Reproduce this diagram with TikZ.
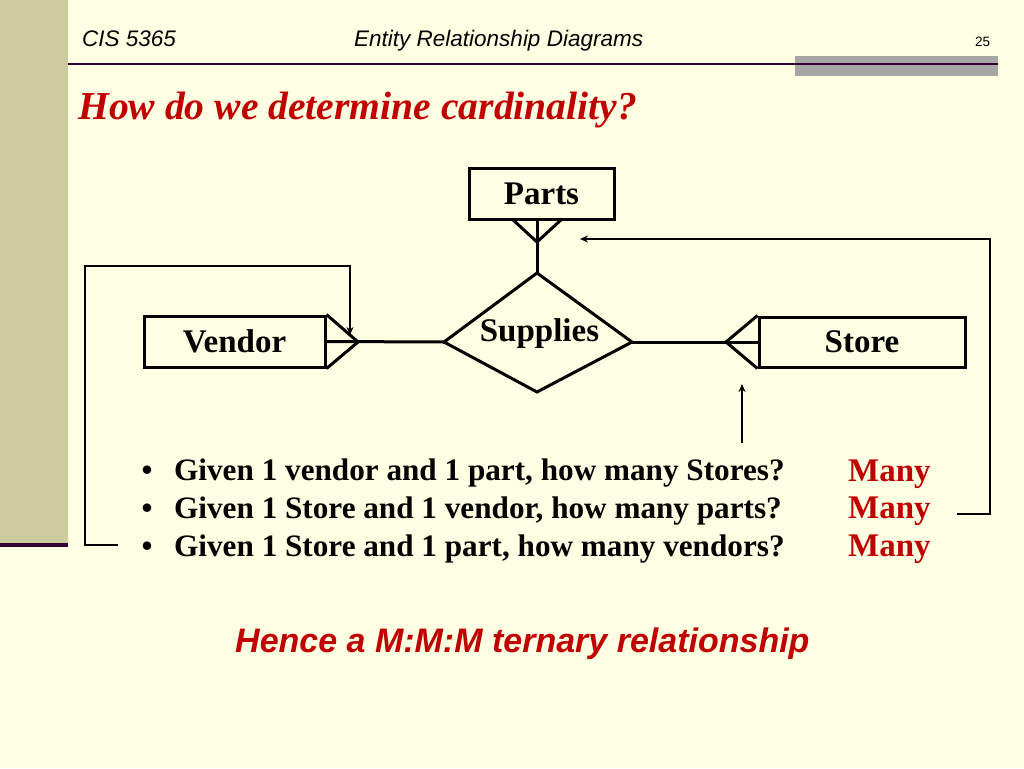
\documentclass[tikz,border=0pt]{standalone}
\usepackage{fontspec}
\setmainfont{Liberation Serif}
\newfontfamily\arialf{Liberation Sans}
\usetikzlibrary{arrows.meta}
\definecolor{bg}{RGB}{255,255,227}
\definecolor{strip}{RGB}{204,204,158}
\definecolor{darkln}{RGB}{51,0,51}
\definecolor{grayblk}{RGB}{166,166,166}
\definecolor{redt}{RGB}{192,0,0}
\begin{document}
\begin{tikzpicture}[x=1pt,y=-1pt,
  entity/.style={draw, line width=3pt, rectangle, inner sep=0pt,
    font=\fontsize{33}{40}\selectfont\bfseries},
  conn/.style={line width=3pt},
  fb/.style={line width=2.6pt, -{Stealth[length=8pt,width=7pt]}},
  hdr/.style={anchor=base west, inner sep=0pt, font=\arialf\itshape\fontsize{22.5}{27}\selectfont},
  bul/.style={anchor=base, inner sep=0pt, font=\fontsize{31.2}{37}\selectfont\bfseries},
  btxt/.style={anchor=base west, inner sep=0pt, font=\fontsize{31.2}{37}\selectfont\bfseries},
  many/.style={anchor=base west, inner sep=0pt, text=redt, font=\fontsize{33}{40}\selectfont\bfseries}]
\useasboundingbox (0,0) rectangle (1024,768);
% background
\fill[bg] (0,0) rectangle (1024,768);
\fill[strip] (0,0) rectangle (68,543);
\fill[darkln] (0,543) rectangle (68,547);
\fill[grayblk] (795,56) rectangle (998,76);
\draw[darkln, line width=2.8pt] (68,64) -- (998,64);
% header
\node[hdr] (hd1) at (82,47) {CIS 5365};
\node[hdr] (hd2) at (354,47) {Entity Relationship Diagrams};
\node[anchor=base west, inner sep=0pt, font=\arialf\fontsize{13.5}{16}\selectfont] (hd3) at (975,47) {25};
% title
\node[anchor=base west, inner sep=0pt, text=redt, font=\fontsize{39.6}{46}\selectfont\bfseries\itshape] (title) at (78,119) {How do we determine cardinality?};
% entities
\node[entity, minimum width=145pt, minimum height=51pt] (parts) at (541.5,193.5) {Parts};
\node[entity, minimum width=181pt, minimum height=51pt] (vendor) at (234.5,341.5) {Vendor};
\node[entity, minimum width=206pt, minimum height=50pt] (store) at (862,342) {Store};
% relationship diamond
\coordinate (dt) at (537,273);
\coordinate (dl) at (444,342);
\coordinate (dr) at (632,342);
\coordinate (db) at (537,392);
\draw[conn, line join=miter] (dt) -- (dr) -- (db) -- (dl) -- cycle;
\node[anchor=base, inner sep=0pt, font=\fontsize{33}{40}\selectfont\bfseries] (suptxt) at (539.5,341) {Supplies};
% crow's feet and connectors
\coordinate (pf) at (537,242);
\draw[conn] (512,219) -- (pf) -- (562,219);
\draw[conn] (dt) -- (dt |- parts.south);
\coordinate (vf) at (358,342);
\draw[conn] (vendor.north east) -- (vf) -- (vendor.south east);
\draw[conn] (vendor.east) -- (dl);
\coordinate (sf) at (726,342);
\draw[conn] (store.north west) -- (sf) -- (store.south west);
\draw[conn] (store.west) -- (dr);
% bullets
\node[bul] (b1) at (147,480) {•};
\node[bul] (b2) at (147,518) {•};
\node[bul] (b3) at (147,556) {•};
\node[btxt] (t1) at (174,480) {Given 1 vendor and 1 part, how many Stores?};
\node[btxt] (t2) at (174,518) {Given 1 Store and 1 vendor, how many parts?};
\node[btxt] (t3) at (174,556) {Given 1 Store and 1 part, how many vendors?};
\node[many] (m1) at (848,481) {Many};
\node[many] (m2) at (848,518) {Many};
\node[many] (m3) at (848,556) {Many};
% feedback arrows
\coordinate (la) at (118,545);
\coordinate (lb) at (350,335);
\draw[fb] (la) -- (85,545) -- (85,266) -| (lb);
\coordinate (ra) at (957,514);
\coordinate (rb) at (580,239);
\draw[fb] (ra) -- (990,514) -- (990,239) -- (rb);
\coordinate (sa) at (742,443);
\coordinate (sb) at (742,384);
\draw[fb] (sa) -- (sb);
% conclusion
\node[anchor=base west, inner sep=0pt, text=redt, font=\arialf\bfseries\itshape\fontsize{34}{41}\selectfont] (hence) at (235,652) {Hence a M:M:M ternary relationship};
\end{tikzpicture}
\end{document}
